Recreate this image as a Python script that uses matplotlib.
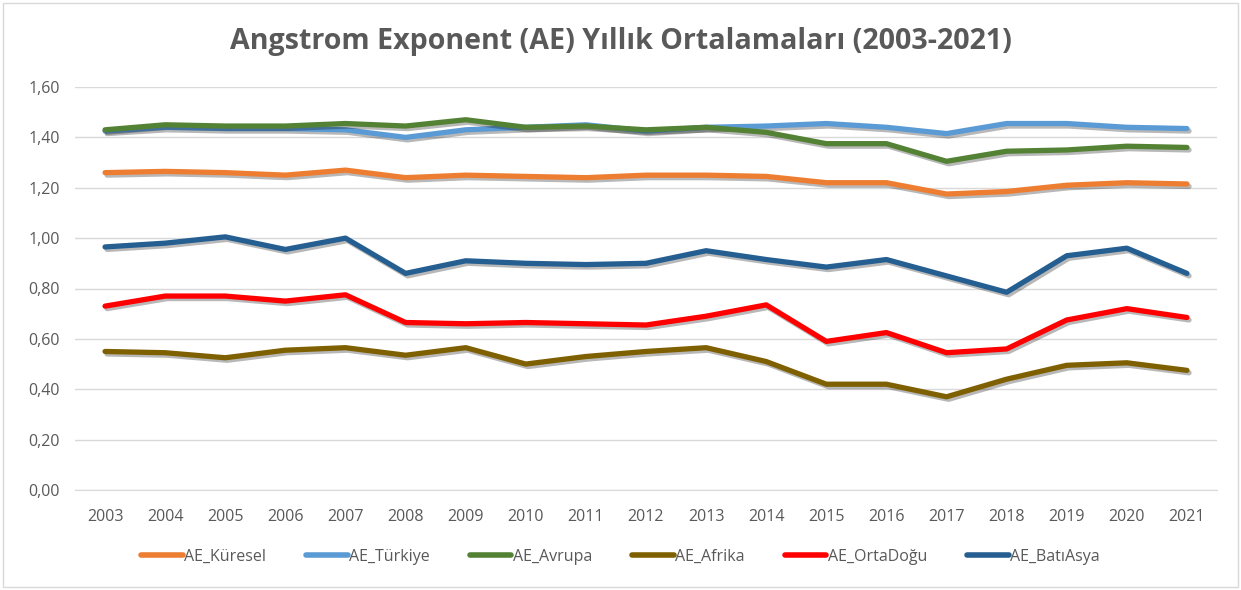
import matplotlib
matplotlib.use("Agg")
import matplotlib.pyplot as plt
import matplotlib.patheffects as pe
from matplotlib.patches import Rectangle
from matplotlib.ticker import FuncFormatter

years = [str(y) for y in range(2003, 2022)]

ae_kuresel = [1.26, 1.265, 1.26, 1.25, 1.27, 1.24, 1.25, 1.245, 1.24, 1.25,
              1.25, 1.245, 1.22, 1.22, 1.175, 1.185, 1.21, 1.22, 1.215]
ae_turkiye = [1.425, 1.44, 1.435, 1.435, 1.43, 1.40, 1.43, 1.44, 1.45, 1.425,
              1.44, 1.445, 1.455, 1.44, 1.415, 1.455, 1.455, 1.44, 1.435]
ae_avrupa = [1.43, 1.45, 1.445, 1.445, 1.455, 1.445, 1.47, 1.44, 1.445, 1.43,
             1.44, 1.42, 1.375, 1.375, 1.305, 1.345, 1.35, 1.365, 1.36]
ae_afrika = [0.55, 0.545, 0.525, 0.555, 0.565, 0.535, 0.565, 0.50, 0.53, 0.55,
             0.565, 0.51, 0.42, 0.42, 0.37, 0.44, 0.495, 0.505, 0.475]
ae_ortadogu = [0.73, 0.77, 0.77, 0.75, 0.775, 0.665, 0.66, 0.665, 0.66, 0.655,
               0.69, 0.735, 0.59, 0.625, 0.545, 0.56, 0.675, 0.72, 0.685]
ae_batiasya = [0.965, 0.98, 1.005, 0.955, 1.0, 0.86, 0.91, 0.90, 0.895, 0.90,
               0.95, 0.915, 0.885, 0.915, 0.85, 0.785, 0.93, 0.96, 0.86]

series_names = ["AE_Küresel", "AE_Türkiye", "AE_Avrupa", "AE_Afrika", "AE_OrtaDoğu", "AE_BatıAsya"]
series_values = [ae_kuresel, ae_turkiye, ae_avrupa, ae_afrika, ae_ortadogu, ae_batiasya]
colors = ["#ED7D31", "#5B9BD5", "#548235", "#7F6000", "#FF0000", "#255E91"]

yticks = [0.0, 0.2, 0.4, 0.6, 0.8, 1.0, 1.2, 1.4, 1.6]

plt.rcParams['font.family'] = ['Open Sans', 'DejaVu Sans']

fig = plt.figure(figsize=(12.41, 5.90), dpi=100)
ax = fig.add_axes([75/1241, 1-490/590, (1217-75)/1241, (490-87)/590])

x = list(range(len(years)))
shadow = [pe.SimpleLineShadow(offset=(1.5, -1.8), shadow_color='black', alpha=0.28), pe.Normal()]
for name, vals, c in zip(series_names, series_values, colors):
    ax.plot(x, vals, color=c, lw=3.8, label=name, solid_capstyle='round',
            solid_joinstyle='round', path_effects=shadow)

ax.set_xlim(-0.5, len(years) - 0.5)
ax.set_ylim(0, 1.6)
ax.set_yticks(yticks)
ax.yaxis.set_major_formatter(FuncFormatter(lambda v, p: f"{v:.2f}".replace('.', ',')))
ax.set_xticks(x)
ax.set_xticklabels(years)
ax.grid(axis='y', color='#D9D9D9', lw=1)
ax.set_axisbelow(True)
for s in ['top', 'right', 'left']:
    ax.spines[s].set_visible(False)
ax.spines['bottom'].set_color('#D9D9D9')
ax.tick_params(axis='both', length=0, labelsize=11.5, colors='#595959')
ax.tick_params(axis='x', pad=13.5)
ax.tick_params(axis='y', pad=11)

fig.text(0.5, 1-42/590, "Angstrom Exponent (AE) Yıllık Ortalamaları (2003-2021)",
         ha='center', va='center', fontsize=20.6, fontweight='bold', color='#595959')

leg = fig.legend(loc='center', bbox_to_anchor=(0.5, 1-557/590), ncol=6, frameon=False,
                 fontsize=11.5, handlelength=2.6, handletextpad=0.1, columnspacing=2.5)
for t in leg.get_texts():
    t.set_color('#595959')
for h in leg.legend_handles:
    h.set_path_effects([])
    h.set_linewidth(4)

fig.patches.append(Rectangle((3/1241, 3/590), 1235/1241, 584/590, transform=fig.transFigure,
                             fill=False, edgecolor='#D9D9D9', lw=1))

fig.savefig("out.png", dpi=100, facecolor='white')
